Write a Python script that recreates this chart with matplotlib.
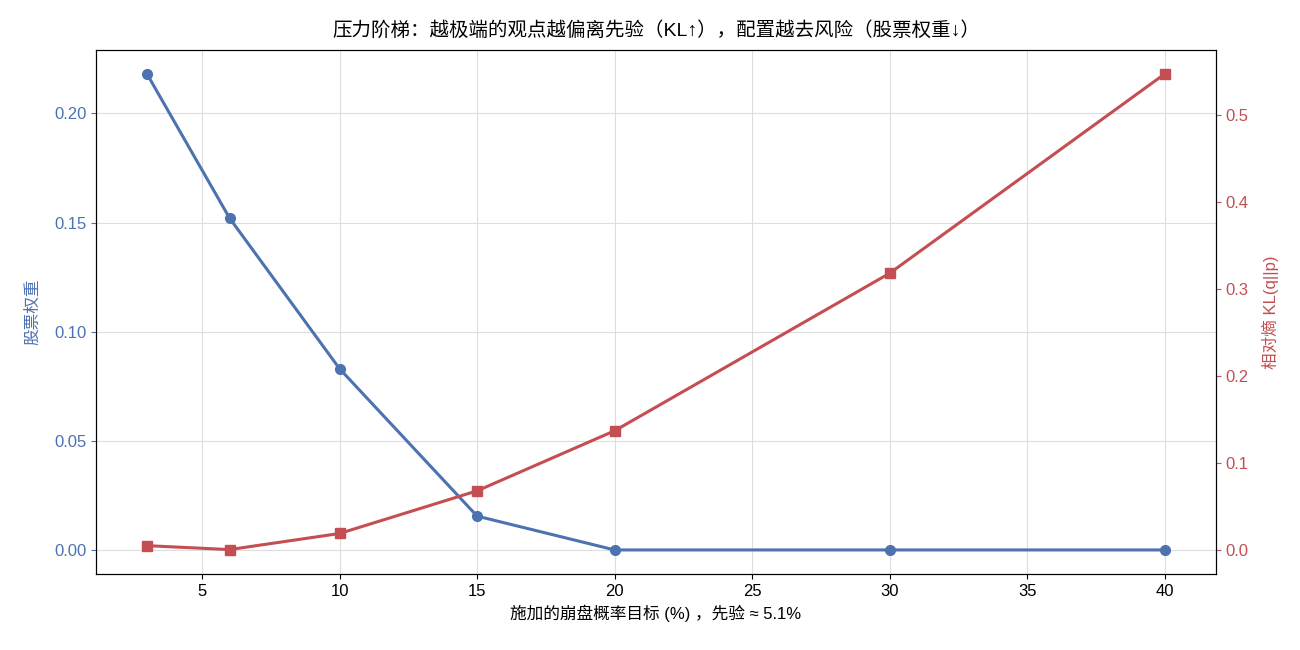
import matplotlib.pyplot as plt

plt.rcParams['font.family'] = ['Liberation Sans', 'Noto Sans CJK SC', 'DejaVu Sans']
plt.rcParams['axes.unicode_minus'] = False

# 施加的崩盘概率目标 (%)
targets = [3, 6, 10, 15, 20, 30, 40]
# 股票权重
equity_weight = [0.218, 0.152, 0.083, 0.0155, 0.0, 0.0, 0.0]
# 相对熵 KL(q||p)
kl_div = [0.005, 0.0005, 0.019, 0.068, 0.137, 0.318, 0.547]

blue = '#4C72B0'
red = '#C44E52'

fig, ax = plt.subplots(figsize=(13, 6.5), dpi=100)
fig.subplots_adjust(left=0.074, right=0.935, top=0.923, bottom=0.117)

ax.plot(targets, equity_weight, color=blue, marker='o', linewidth=2.2, markersize=7)
ax.set_ylabel('股票权重', color=blue, fontsize=12, labelpad=10)
ax.tick_params(axis='y', colors=blue, labelsize=12)
ax.tick_params(axis='x', labelsize=12)
ax.set_xlabel('施加的崩盘概率目标 (%) ，先验 ≈ 5.1%', fontsize=12)
ax.set_ylim(-0.011, 0.229)
ax.set_xlim(1.15, 41.85)
ax.grid(True, color='#dddddd', linewidth=0.8)
ax.set_axisbelow(True)

ax2 = ax.twinx()
ax2.plot(targets, kl_div, color=red, marker='s', linewidth=2.2, markersize=7)
ax2.set_ylabel('相对熵 KL(q||p)', color=red, fontsize=12, labelpad=10)
ax2.tick_params(axis='y', colors=red, labelsize=12)
ax2.set_ylim(-0.0275, 0.5745)

ax.set_title('压力阶梯：越极端的观点越偏离先验（KL↑），配置越去风险（股票权重↓）',
             fontsize=14, pad=10)

plt.savefig('out.png')
